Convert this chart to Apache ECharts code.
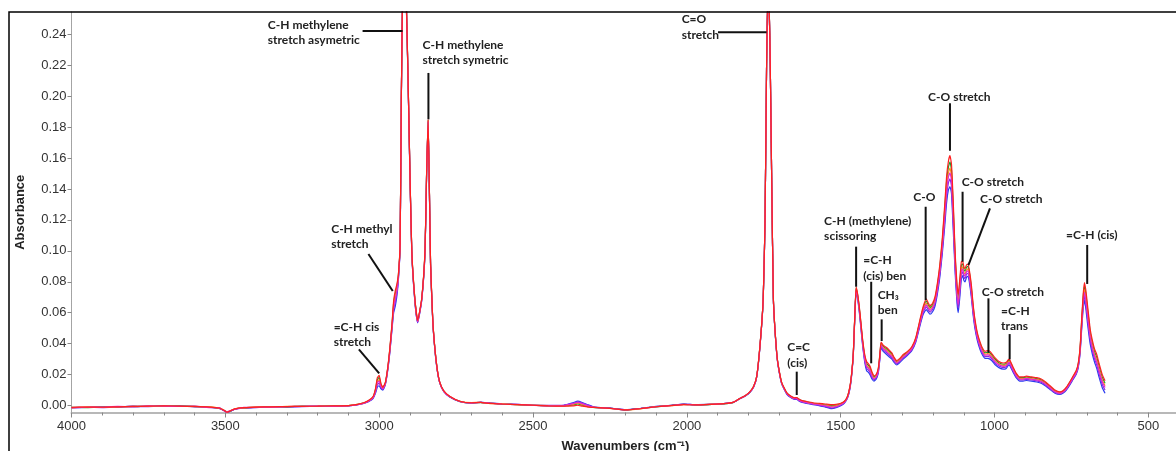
<!DOCTYPE html>
<html>
<head>
<meta charset="utf-8">
<script src="https://cdn.jsdelivr.net/npm/echarts@6/dist/echarts.min.js"></script>
<style>
html,body{margin:0;padding:0;background:#fff;}
#chart{width:1176px;height:451px;}
</style>
</head>
<body>
<div id="chart"></div>
<script>
// ---- data ----
const wavenumbers = [
4000,3950,3900,3850,3800,3750,3700,3650,3600,3550,3520,3505,3495,3485,3470,3440,3400,3350,3300,3250,3200,3150,3100,
3070,3050,3035,3020,3012,3006,3000,2994,2988,2980,2972,2965,2958,2953,2948,2943,2938,2932,2928,2924,2918,2912,2906,2900,2894,2884,2875,2862,2851,2846,2841,2837,2833,2826,2819,2811,2803,2790,2771,2738,
2700,2670,2640,2600,2550,2500,2450,2400,2370,2355,2340,2320,2300,2250,2200,2150,2100,2050,2010,1970,1920,1880,1850,
1828,1810,1795,1783,1773,1762,1752,1746,1741,1737,1733,1729,1724,1719,1714,1708,1703,1692,1675,1660,1650,1643,1636,1625,1611,1590,1570,1550,1530,1515,1500,
1488,1478,1470,1464,1459,1454,1450,1445,1440,1434,1429,1422,1416,1410,1405,1398,1392,1385,1378,1373,1369,1362,1351,1343,1334,1326,1318,1308,1297,1283,1269,1256,1242,1232,1222,1216,1210,1202,1194,
1186,1178,1170,1162,1156,1150,1145,1140,1134,1128,1122,1118,1113,1108,1104,1100,1096,1091,1086,1080,1075,1070,1064,1056,1047,1039,1031,1023,1015,1007,999,
986,972,962,956,952,946,939,930,918,907,896,880,863,847,833,820,804,788,778,766,755,745,735,728,722,717,712,708,703,698,693,689,682,675,668,660,650,641
];

const spectrumBlue = [
-0.0014,-0.0012,-0.0008,-0.0010,-0.0004,-0.0006,-0.0003,-0.0002,-0.0008,-0.0012,-0.0018,-0.0032,-0.0044,-0.0038,-0.0024,-0.0016,-0.0012,-0.0009,-0.0008,-0.0006,-0.0005,-0.0004,-0.0002,
0.0005,0.0014,0.0025,0.0045,0.0080,0.0120,0.0128,0.0108,0.0100,0.0135,0.0230,0.0350,0.0500,0.0600,0.0640,0.0700,0.0800,0.1020,0.1980,0.2630,0.2840,0.2600,0.2080,0.1480,0.0980,0.0670,0.0535,0.0675,0.0990,0.1480,0.1830,0.1400,0.0900,0.0545,0.0360,0.0222,0.0145,0.0090,0.0056,0.0025,
0.0016,0.0022,0.0016,0.0011,0.0007,0.0003,0.0000,0.0002,0.0018,0.0028,0.0020,0.0004,-0.0010,-0.0016,-0.0026,-0.0018,-0.0006,0.0002,0.0010,0.0006,0.0009,0.0013,0.0020,
0.0044,0.0062,0.0086,0.0120,0.0185,0.0390,0.0680,0.1190,0.2190,0.2640,0.2610,0.2190,0.1390,0.0690,0.0490,0.0330,0.0250,0.0140,0.0072,0.0048,0.0040,0.0040,0.0030,0.0020,0.0014,0.0006,0.0000,-0.0010,-0.0020,-0.0014,-0.0002,
0.0016,0.0048,0.0110,0.0205,0.0330,0.0580,0.0740,0.0690,0.0610,0.0490,0.0390,0.0280,0.0225,0.0215,0.0200,0.0170,0.0158,0.0170,0.0210,0.0295,0.0375,0.0350,0.0330,0.0315,0.0300,0.0278,0.0262,0.0278,0.0300,0.0325,0.0355,0.0410,0.0520,0.0590,0.0620,0.0605,0.0590,0.0605,0.0640,
0.0720,0.0830,0.0980,0.1160,0.1310,0.1395,0.1415,0.1370,0.1120,0.0850,0.0660,0.0600,0.0700,0.0820,0.0840,0.0810,0.0800,0.0830,0.0835,0.0770,0.0690,0.0590,0.0500,0.0420,0.0360,0.0325,0.0305,0.0305,0.0300,0.0285,0.0265,
0.0245,0.0235,0.0240,0.0258,0.0262,0.0240,0.0212,0.0180,0.0158,0.0158,0.0162,0.0158,0.0152,0.0142,0.0124,0.0104,0.0080,0.0072,0.0080,0.0102,0.0135,0.0168,0.0200,0.0245,0.0340,0.0490,0.0630,0.0680,0.0620,0.0530,0.0450,0.0395,0.0330,0.0280,0.0240,0.0180,0.0115,0.0080
];

const spectrumPurple = [
-0.0015,-0.0011,-0.0013,-0.0009,-0.0006,-0.0007,-0.0002,-0.0003,-0.0007,-0.0011,-0.0019,-0.0031,-0.0045,-0.0039,-0.0023,-0.0017,-0.0013,-0.0008,-0.0009,-0.0007,-0.0004,-0.0003,-0.0001,
0.0006,0.0015,0.0027,0.0048,0.0088,0.0135,0.0145,0.0116,0.0105,0.0139,0.0235,0.0358,0.0510,0.0620,0.0665,0.0720,0.0810,0.1028,0.1985,0.2635,0.2842,0.2605,0.2085,0.1485,0.0985,0.0675,0.0539,0.0679,0.0995,0.1485,0.1835,0.1405,0.0905,0.0549,0.0363,0.0224,0.0146,0.0091,0.0057,0.0026,
0.0017,0.0021,0.0015,0.0010,0.0006,0.0002,0.0001,0.0001,0.0014,0.0024,0.0016,0.0000,-0.0011,-0.0016,-0.0027,-0.0018,-0.0007,0.0002,0.0009,0.0005,0.0008,0.0013,0.0020,
0.0044,0.0063,0.0087,0.0121,0.0186,0.0393,0.0683,0.1193,0.2193,0.2643,0.2613,0.2193,0.1393,0.0693,0.0493,0.0333,0.0253,0.0143,0.0075,0.0051,0.0043,0.0043,0.0033,0.0023,0.0017,0.0009,0.0003,-0.0006,-0.0016,-0.0010,0.0002,
0.0019,0.0051,0.0114,0.0209,0.0334,0.0585,0.0746,0.0698,0.0619,0.0500,0.0400,0.0293,0.0240,0.0229,0.0214,0.0181,0.0167,0.0178,0.0218,0.0304,0.0384,0.0360,0.0341,0.0326,0.0310,0.0286,0.0269,0.0285,0.0308,0.0331,0.0361,0.0418,0.0530,0.0603,0.0638,0.0620,0.0604,0.0619,0.0655,
0.0738,0.0850,0.1005,0.1195,0.1353,0.1441,0.1465,0.1418,0.1165,0.0883,0.0690,0.0630,0.0730,0.0848,0.0864,0.0833,0.0821,0.0850,0.0855,0.0790,0.0710,0.0608,0.0515,0.0433,0.0373,0.0336,0.0316,0.0318,0.0313,0.0296,0.0276,
0.0255,0.0245,0.0250,0.0267,0.0272,0.0249,0.0220,0.0188,0.0165,0.0165,0.0169,0.0165,0.0159,0.0149,0.0131,0.0110,0.0085,0.0076,0.0084,0.0107,0.0140,0.0174,0.0206,0.0253,0.0350,0.0508,0.0653,0.0709,0.0650,0.0560,0.0478,0.0419,0.0353,0.0301,0.0263,0.0203,0.0136,0.0100
];

const spectrumGreen = [
-0.0011,-0.0013,-0.0009,-0.0007,-0.0007,-0.0003,-0.0005,-0.0003,-0.0005,-0.0011,-0.0015,-0.0031,-0.0040,-0.0037,-0.0023,-0.0013,-0.0011,-0.0007,-0.0008,-0.0004,-0.0005,-0.0003,-0.0001,
0.0007,0.0017,0.0031,0.0055,0.0104,0.0168,0.0182,0.0134,0.0114,0.0147,0.0246,0.0374,0.0532,0.0664,0.0720,0.0764,0.0832,0.1044,0.1996,0.2646,0.2848,0.2616,0.2096,0.1496,0.0996,0.0686,0.0547,0.0687,0.1006,0.1496,0.1846,0.1416,0.0916,0.0557,0.0368,0.0228,0.0149,0.0094,0.0059,0.0027,
0.0017,0.0019,0.0015,0.0009,0.0005,0.0001,-0.0003,-0.0003,0.0004,0.0010,0.0002,-0.0008,-0.0013,-0.0017,-0.0030,-0.0019,-0.0009,0.0001,0.0007,0.0003,0.0007,0.0011,0.0019,
0.0046,0.0064,0.0089,0.0124,0.0189,0.0398,0.0688,0.1198,0.2198,0.2648,0.2618,0.2198,0.1398,0.0698,0.0498,0.0338,0.0258,0.0148,0.0080,0.0056,0.0048,0.0050,0.0040,0.0030,0.0024,0.0015,0.0010,0.0004,0.0000,0.0002,0.0011,
0.0026,0.0058,0.0122,0.0217,0.0342,0.0596,0.0760,0.0714,0.0638,0.0522,0.0422,0.0320,0.0273,0.0259,0.0244,0.0206,0.0185,0.0194,0.0234,0.0323,0.0403,0.0382,0.0366,0.0351,0.0332,0.0304,0.0284,0.0300,0.0324,0.0345,0.0375,0.0434,0.0552,0.0630,0.0676,0.0653,0.0634,0.0649,0.0688,
0.0776,0.0894,0.1060,0.1272,0.1446,0.1543,0.1575,0.1522,0.1264,0.0954,0.0756,0.0696,0.0796,0.0908,0.0916,0.0882,0.0868,0.0894,0.0899,0.0834,0.0754,0.0646,0.0548,0.0460,0.0400,0.0361,0.0341,0.0345,0.0340,0.0321,0.0301,
0.0277,0.0267,0.0272,0.0288,0.0292,0.0268,0.0238,0.0204,0.0180,0.0180,0.0184,0.0180,0.0174,0.0164,0.0145,0.0123,0.0096,0.0085,0.0092,0.0116,0.0151,0.0186,0.0220,0.0269,0.0372,0.0546,0.0702,0.0772,0.0716,0.0626,0.0538,0.0471,0.0402,0.0348,0.0312,0.0252,0.0183,0.0144
];

const spectrumOrange = [
-0.0016,-0.0009,-0.0012,-0.0009,-0.0005,-0.0005,-0.0004,-0.0005,-0.0007,-0.0009,-0.0017,-0.0029,-0.0043,-0.0035,-0.0021,-0.0015,-0.0009,-0.0009,-0.0006,-0.0006,-0.0003,-0.0003,-0.0001,
0.0007,0.0016,0.0029,0.0053,0.0098,0.0156,0.0168,0.0127,0.0111,0.0144,0.0242,0.0368,0.0524,0.0648,0.0700,0.0748,0.0824,0.1038,0.1992,0.2642,0.2846,0.2612,0.2092,0.1492,0.0992,0.0682,0.0544,0.0684,0.1002,0.1492,0.1842,0.1412,0.0912,0.0554,0.0366,0.0227,0.0148,0.0093,0.0058,0.0027,
0.0019,0.0021,0.0013,0.0012,0.0005,0.0003,-0.0001,-0.0002,0.0008,0.0015,0.0006,-0.0006,-0.0011,-0.0019,-0.0027,-0.0021,-0.0007,-0.0001,0.0005,0.0005,0.0009,0.0012,0.0021,
0.0045,0.0064,0.0088,0.0123,0.0188,0.0396,0.0686,0.1196,0.2196,0.2646,0.2616,0.2196,0.1396,0.0696,0.0496,0.0336,0.0256,0.0146,0.0078,0.0054,0.0046,0.0047,0.0037,0.0027,0.0021,0.0013,0.0008,0.0002,-0.0005,-0.0002,0.0008,
0.0023,0.0055,0.0119,0.0214,0.0339,0.0592,0.0755,0.0708,0.0631,0.0514,0.0414,0.0310,0.0261,0.0248,0.0233,0.0197,0.0178,0.0188,0.0228,0.0316,0.0396,0.0374,0.0357,0.0342,0.0324,0.0297,0.0279,0.0294,0.0318,0.0340,0.0370,0.0428,0.0544,0.0620,0.0662,0.0641,0.0623,0.0638,0.0676,
0.0762,0.0878,0.1040,0.1244,0.1412,0.1506,0.1535,0.1484,0.1228,0.0928,0.0732,0.0672,0.0772,0.0886,0.0897,0.0864,0.0851,0.0878,0.0883,0.0818,0.0738,0.0632,0.0536,0.0450,0.0390,0.0352,0.0332,0.0335,0.0330,0.0312,0.0292,
0.0269,0.0259,0.0264,0.0280,0.0285,0.0261,0.0232,0.0198,0.0174,0.0174,0.0179,0.0174,0.0169,0.0159,0.0140,0.0118,0.0092,0.0082,0.0089,0.0113,0.0147,0.0181,0.0215,0.0263,0.0364,0.0532,0.0684,0.0749,0.0692,0.0602,0.0516,0.0452,0.0384,0.0331,0.0294,0.0234,0.0166,0.0128
];

const spectrumMagenta = [
-0.0013,-0.0011,-0.0010,-0.0006,-0.0008,-0.0002,-0.0004,-0.0006,-0.0004,-0.0013,-0.0014,-0.0033,-0.0041,-0.0034,-0.0025,-0.0012,-0.0011,-0.0010,-0.0007,-0.0005,-0.0004,-0.0005,-0.0002,
0.0006,0.0016,0.0028,0.0051,0.0094,0.0148,0.0158,0.0122,0.0108,0.0142,0.0239,0.0364,0.0518,0.0636,0.0685,0.0736,0.0818,0.1034,0.1989,0.2639,0.2845,0.2609,0.2089,0.1489,0.0989,0.0679,0.0542,0.0681,0.0999,0.1489,0.1839,0.1409,0.0910,0.0552,0.0365,0.0226,0.0147,0.0092,0.0058,0.0026,
0.0016,0.0020,0.0016,0.0010,0.0007,0.0002,-0.0002,0.0000,0.0012,0.0020,0.0012,-0.0002,-0.0012,-0.0017,-0.0029,-0.0019,-0.0008,0.0001,0.0008,0.0004,0.0008,0.0012,0.0020,
0.0045,0.0063,0.0088,0.0122,0.0187,0.0395,0.0685,0.1195,0.2195,0.2645,0.2615,0.2195,0.1395,0.0695,0.0495,0.0335,0.0255,0.0145,0.0077,0.0053,0.0045,0.0045,0.0035,0.0025,0.0019,0.0011,0.0005,-0.0002,-0.0010,-0.0006,0.0005,
0.0021,0.0053,0.0117,0.0212,0.0337,0.0589,0.0751,0.0703,0.0626,0.0508,0.0408,0.0302,0.0252,0.0240,0.0225,0.0190,0.0173,0.0183,0.0223,0.0311,0.0391,0.0368,0.0350,0.0335,0.0318,0.0292,0.0275,0.0290,0.0313,0.0336,0.0366,0.0423,0.0538,0.0612,0.0651,0.0632,0.0615,0.0630,0.0667,
0.0751,0.0866,0.1025,0.1223,0.1386,0.1478,0.1505,0.1456,0.1201,0.0908,0.0714,0.0654,0.0754,0.0869,0.0883,0.0850,0.0838,0.0866,0.0871,0.0806,0.0726,0.0621,0.0527,0.0442,0.0382,0.0345,0.0325,0.0327,0.0322,0.0305,0.0285,
0.0263,0.0253,0.0258,0.0275,0.0279,0.0256,0.0227,0.0193,0.0170,0.0170,0.0175,0.0170,0.0165,0.0155,0.0136,0.0115,0.0089,0.0079,0.0087,0.0110,0.0144,0.0178,0.0211,0.0258,0.0358,0.0521,0.0670,0.0732,0.0674,0.0584,0.0499,0.0438,0.0370,0.0318,0.0280,0.0220,0.0153,0.0116
];

const spectrumRed = [
-0.0012,-0.0010,-0.0011,-0.0008,-0.0006,-0.0004,-0.0002,-0.0004,-0.0006,-0.0010,-0.0016,-0.0030,-0.0042,-0.0036,-0.0022,-0.0014,-0.0010,-0.0008,-0.0007,-0.0005,-0.0004,-0.0002,0.0000,
0.0008,0.0018,0.0032,0.0058,0.0110,0.0180,0.0195,0.0140,0.0118,0.0150,0.0250,0.0380,0.0540,0.0680,0.0740,0.0780,0.0840,0.1050,0.2000,0.2650,0.2850,0.2620,0.2100,0.1500,0.1000,0.0690,0.0550,0.0690,0.1010,0.1500,0.1850,0.1420,0.0920,0.0560,0.0370,0.0230,0.0150,0.0095,0.0060,0.0028,
0.0018,0.0020,0.0014,0.0010,0.0006,0.0002,-0.0002,-0.0004,-0.0002,0.0002,-0.0004,-0.0010,-0.0012,-0.0018,-0.0028,-0.0020,-0.0008,0.0000,0.0006,0.0004,0.0008,0.0012,0.0020,
0.0046,0.0065,0.0090,0.0125,0.0190,0.0400,0.0690,0.1200,0.2200,0.2650,0.2620,0.2200,0.1400,0.0700,0.0500,0.0340,0.0260,0.0150,0.0082,0.0058,0.0050,0.0052,0.0042,0.0032,0.0026,0.0018,0.0014,0.0010,0.0006,0.0008,0.0015,
0.0028,0.0060,0.0125,0.0220,0.0345,0.0600,0.0765,0.0720,0.0645,0.0530,0.0430,0.0330,0.0285,0.0270,0.0255,0.0215,0.0192,0.0200,0.0240,0.0330,0.0410,0.0390,0.0375,0.0360,0.0340,0.0310,0.0290,0.0305,0.0330,0.0350,0.0380,0.0440,0.0560,0.0640,0.0690,0.0665,0.0645,0.0660,0.0700,
0.0790,0.0910,0.1080,0.1300,0.1480,0.1580,0.1615,0.1560,0.1300,0.0980,0.0780,0.0720,0.0820,0.0930,0.0935,0.0900,0.0885,0.0910,0.0915,0.0850,0.0770,0.0660,0.0560,0.0470,0.0410,0.0370,0.0350,0.0355,0.0350,0.0330,0.0310,
0.0285,0.0275,0.0280,0.0295,0.0300,0.0275,0.0245,0.0210,0.0185,0.0185,0.0190,0.0185,0.0180,0.0170,0.0150,0.0128,0.0100,0.0088,0.0095,0.0120,0.0155,0.0190,0.0225,0.0275,0.0380,0.0560,0.0720,0.0795,0.0740,0.0650,0.0560,0.0490,0.0420,0.0365,0.0330,0.0270,0.0200,0.0160
];

const xMajorTicks = [4000, 3500, 3000, 2500, 2000, 1500, 1000, 500];
const xMinorTicks = [3900,3800,3700,3600,3400,3300,3200,3100,2900,2800,2700,2600,2400,2300,2200,2100,1900,1800,1700,1600,1400,1300,1200,1100,900,800,700,600];
const yTicks = [0.00, 0.02, 0.04, 0.06, 0.08, 0.10, 0.12, 0.14, 0.16, 0.18, 0.20, 0.22, 0.24];

// annotation labels: text, text anchor [wn, abs], leader line from/to [wn, abs]
const annotationTexts = [
  "C-H methylene\nstretch asymetric", "C-H methylene\nstretch symetric", "C=O\nstretch",
  "C-H methyl\nstretch", "=C-H cis\nstretch", "C=C\n(cis)", "C-H (methylene)\nscissoring",
  "=C-H\n(cis) ben", "CH\u2083\nben", "C-O", "C-O stretch", "C-O stretch", "C-O stretch",
  "C-O stretch", "=C-H\ntrans", "=C-H (cis)"
];
const annotationAnchors = [
  [3362, 0.2512], [2859, 0.2381], [2017, 0.2547],
  [3156, 0.1193], [3148, 0.0559], [1674, 0.0426], [1554, 0.1243],
  [1427, 0.0990], [1380, 0.0764], [1264, 0.1400], [1216, 0.2042], [1107, 0.1493], [1047, 0.1385],
  [1042, 0.0786], [979, 0.0663], [768, 0.1152]
];
const annotationLineFrom = [
  [3054, 0.2421], [2840, 0.2150], [1899, 0.2413],
  [3035, 0.0980], [3066, 0.0363], [1643, 0.0219], [1450, 0.1027],
  [1401, 0.0800], [1367, 0.0557], [1224, 0.1285], [1145, 0.1954], [1104, 0.1382], [1015, 0.1275],
  [1020, 0.0693], [951, 0.0462], [699, 0.1038]
];
const annotationLineTo = [
  [2924, 0.2421], [2840, 0.1850], [1741, 0.2413],
  [2956, 0.0740], [3000, 0.0208], [1643, 0.0068], [1450, 0.0768],
  [1401, 0.0273], [1367, 0.0417], [1224, 0.0682], [1145, 0.1647], [1104, 0.0930], [1085, 0.0908],
  [1020, 0.0341], [951, 0.0299], [699, 0.0786]
];

// ---- chart ----
const chart = echarts.init(document.getElementById('chart'), null, {renderer: 'canvas'});
const seriesDefs = [
  {name: 'S1', data: spectrumBlue, color: '#2b3cf0'},
  {name: 'S2', data: spectrumPurple, color: '#8a2be2'},
  {name: 'S3', data: spectrumGreen, color: '#1e9e28'},
  {name: 'S4', data: spectrumOrange, color: '#ff8a1c'},
  {name: 'S5', data: spectrumMagenta, color: '#e22ad0'},
  {name: 'S6', data: spectrumRed, color: '#ff2020'}
];
const labelFont = '"Liberation Sans", Arial, sans-serif';

chart.setOption({
  animation: false,
  backgroundColor: '#ffffff',
  grid: {left: 71.5, top: 12, width: 1107.7, height: 400.5, containLabel: false, outerBoundsMode: 'none'},
  xAxis: [{
    type: 'value', inverse: true, min: 400, max: 4000,
    name: 'Wavenumbers (cm\u207B\u00B9)', nameLocation: 'middle', nameGap: 27,
    nameTextStyle: {fontFamily: labelFont, fontSize: 13, fontWeight: 'bold', color: '#222'},
    axisLine: {show: true, onZero: false, lineStyle: {color: '#b8b8b8', width: 2}},
    axisTick: {show: true, inside: false, length: 5, customValues: xMajorTicks, lineStyle: {color: '#888', width: 1}},
    axisLabel: {customValues: xMajorTicks, fontFamily: labelFont, fontSize: 13, color: '#333', margin: 7,
      formatter: v => String(v)},
    splitLine: {show: false}
  }, {
    type: 'value', inverse: true, min: 400, max: 4000, position: 'bottom',
    axisLine: {show: false, onZero: false},
    axisTick: {show: true, length: 3, customValues: xMinorTicks, lineStyle: {color: '#888', width: 1}},
    axisLabel: {show: false},
    splitLine: {show: false}
  }],
  yAxis: {
    type: 'value', min: -0.0045, max: 0.2544,
    name: 'Absorbance', nameLocation: 'middle', nameGap: 45,
    nameTextStyle: {fontFamily: labelFont, fontSize: 13, fontWeight: 'bold', color: '#222'},
    axisLine: {show: true, onZero: false, lineStyle: {color: '#9a9a9a', width: 1, type: 'dotted'}},
    axisTick: {show: true, length: 4, customValues: yTicks, lineStyle: {color: '#888'}},
    axisLabel: {customValues: yTicks, fontFamily: labelFont, fontSize: 13, color: '#333', margin: 5,
      formatter: v => Number(v).toFixed(2)},
    splitLine: {show: false}
  },
  series: seriesDefs.map(s => ({
    type: 'line', name: s.name, xAxisIndex: 0,
    data: wavenumbers.map((w, i) => [w, s.data[i]]),
    showSymbol: false, symbol: 'none', smooth: 0.15,
    lineStyle: {color: s.color, width: 1.2},
    clip: true
  }))
});

const graphics = [];
graphics.push({
  type: 'rect', silent: true, z: 100,
  shape: {x: 9, y: 12, width: 1300, height: 600},
  style: {fill: 'none', stroke: '#000', lineWidth: 1.5}
});
const lens = seriesDefs.map(s => s.data.length);
if (lens.some(l => l !== wavenumbers.length)) {
  graphics.push({type: 'text', x: 200, y: 200, z: 200, style: {text: 'LEN ' + wavenumbers.length + ' / ' + lens.join(','), fill: '#f00', fontSize: 20}});
}
const annFont = 'Lato, "Open Sans", sans-serif';
annotationTexts.forEach((t, i) => {
  const p = chart.convertToPixel({gridIndex: 0}, annotationAnchors[i]);
  const a = chart.convertToPixel({gridIndex: 0}, annotationLineFrom[i]);
  const b = chart.convertToPixel({gridIndex: 0}, annotationLineTo[i]);
  graphics.push({
    type: 'text', x: p[0], y: p[1], z: 150, silent: true,
    style: {text: t, fill: '#222', fontFamily: annFont, fontSize: 12, fontWeight: 'bold',
      lineHeight: 15.5, verticalAlign: 'top', align: 'left'}
  });
  graphics.push({
    type: 'line', z: 150, silent: true,
    shape: {x1: a[0], y1: a[1], x2: b[0], y2: b[1]},
    style: {stroke: '#111', lineWidth: 2}
  });
});
chart.setOption({graphic: graphics});
</script>
</body>
</html>
